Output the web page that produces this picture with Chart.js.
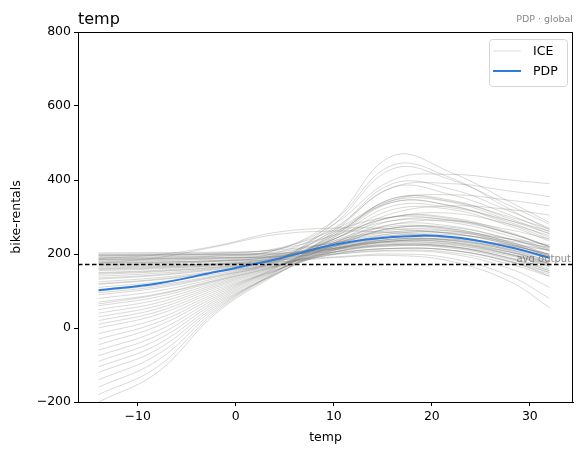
<!DOCTYPE html>
<html>
<head>
<meta charset="utf-8">
<script src="https://cdn.jsdelivr.net/npm/chart.js@4.4.1/dist/chart.umd.min.js"></script>
<style>
  html, body { margin: 0; padding: 0; background: #fff; }
  #wrap { width: 583px; height: 455px; }
</style>
</head>
<body>
<div id="wrap"><canvas id="myChart" width="583" height="455"></canvas></div>
<script>
const temps = [-14, -8, -2, 4, 10, 16, 22, 28, 32];

// partial dependence (average) curve
const pdp = [102, 120, 152, 185, 225, 246, 246, 218, 190];

// average model output (dashed line)
const avgOutput = 173;

// individual conditional expectation curves
const ice = [
  [200, 201, 203, 212, 250, 300, 310, 280, 250],
  [195, 196, 198, 205, 230, 260, 262, 240, 215],
  [190, 191, 194, 200, 222, 245, 244, 222, 200],
  [185, 186, 190, 198, 218, 238, 236, 212, 188],
  [180, 182, 186, 195, 215, 232, 228, 205, 180],
  [176, 178, 183, 193, 212, 228, 224, 198, 172],
  [170, 173, 180, 192, 215, 240, 238, 210, 182],
  [165, 168, 176, 190, 220, 255, 256, 225, 195],
  [160, 164, 173, 188, 225, 270, 272, 240, 210],
  [155, 160, 170, 187, 230, 290, 292, 255, 220],
  [150, 156, 168, 186, 240, 320, 320, 275, 235],
  [145, 152, 165, 185, 250, 350, 345, 295, 255],
  [140, 148, 162, 185, 265, 390, 375, 315, 270],
  [132, 142, 158, 183, 280, 430, 400, 330, 280],
  [125, 136, 154, 180, 290, 465, 420, 340, 285],
  [118, 130, 150, 178, 260, 300, 290, 255, 220],
  [110, 124, 146, 176, 235, 260, 255, 225, 195],
  [100, 116, 142, 174, 215, 235, 232, 205, 175],
  [90, 108, 138, 172, 205, 222, 218, 190, 160],
  [80, 100, 134, 170, 200, 215, 210, 180, 150],
  [70, 92, 130, 168, 198, 210, 204, 172, 140],
  [60, 84, 126, 167, 205, 225, 220, 188, 155],
  [50, 76, 122, 166, 212, 245, 242, 208, 175],
  [40, 68, 118, 165, 220, 270, 268, 232, 198],
  [30, 60, 114, 164, 230, 300, 298, 258, 220],
  [20, 52, 110, 163, 245, 340, 330, 285, 245],
  [10, 44, 105, 162, 260, 380, 360, 305, 260],
  [0, 36, 100, 160, 240, 290, 285, 248, 212],
  [-15, 25, 95, 158, 220, 250, 245, 212, 180],
  [-30, 15, 90, 156, 205, 225, 220, 188, 155],
  [-45, 5, 85, 155, 200, 215, 210, 178, 145],
  [-60, -8, 80, 154, 210, 235, 232, 200, 168],
  [-75, -20, 75, 153, 225, 265, 262, 228, 192],
  [-90, -32, 70, 152, 240, 300, 295, 255, 218],
  [-105, -45, 65, 150, 255, 340, 330, 280, 240],
  [-120, -58, 60, 148, 235, 275, 268, 232, 198],
  [-140, -72, 55, 146, 215, 240, 236, 205, 172],
  [-160, -88, 50, 145, 205, 222, 216, 185, 150],
  [-180, -105, 45, 144, 210, 235, 230, 198, 165],
  [-200, -120, 40, 142, 225, 270, 265, 228, 195],
  [198, 199, 200, 200, 205, 215, 210, 180, 140],
  [188, 189, 190, 192, 200, 208, 200, 160, 110],
  [178, 179, 181, 184, 192, 200, 188, 140, 80],
  [168, 170, 173, 178, 190, 196, 180, 125, 55],
  [192, 193, 196, 210, 280, 400, 415, 400, 390],
  [182, 184, 188, 202, 270, 380, 390, 370, 355],
  [172, 175, 180, 196, 255, 345, 360, 345, 330],
  [162, 166, 173, 190, 240, 310, 330, 320, 305],
  [203, 204, 205, 210, 230, 255, 258, 240, 225],
  [197, 198, 199, 202, 215, 235, 240, 225, 210],
  [186, 187, 189, 195, 220, 250, 252, 235, 218],
  [175, 177, 182, 192, 228, 280, 290, 265, 240],
  [158, 162, 170, 185, 215, 240, 238, 215, 192],
  [148, 154, 164, 182, 212, 232, 226, 200, 175],
  [135, 144, 160, 180, 210, 226, 220, 195, 168],
  [195, 197, 201, 214, 265, 345, 340, 290, 255],
  [185, 188, 194, 210, 290, 440, 405, 320, 265],
  [120, 132, 152, 180, 245, 330, 325, 290, 262],
  [95, 112, 140, 175, 250, 350, 342, 300, 268],
  [65, 90, 128, 168, 230, 280, 275, 240, 208],
  [188, 198, 222, 258, 270, 268, 255, 230, 210],
  [175, 190, 220, 252, 262, 258, 245, 222, 200]
];

const yTicks = [-200, 0, 200, 400, 600, 800];
const xTicks = [-10, 0, 10, 20, 30];

const FONT = "'DejaVu Sans', sans-serif";
const iceColor = "rgba(115,115,110,0.27)";
const pdpColor = "#2f7bd9";

function toPoints(vals) {
  return temps.map((t, i) => ({ x: t, y: vals[i] }));
}

let datasets = [];
ice.forEach((row, i) => {
  datasets.push({
    label: i == 0 ? "ICE" : "",
    data: toPoints(row),
    borderColor: iceColor,
    borderWidth: 1,
    pointRadius: 0,
    tension: 0.4,
    order: 2
  });
});
datasets.push({
  label: "PDP",
  data: toPoints(pdp),
  borderColor: pdpColor,
  borderWidth: 2,
  pointRadius: 0,
  tension: 0.4,
  order: 1
});

// frame, dashed avg line, titles and legend
const extras = {
  id: "extras",
  afterDatasetsDraw(chart) {
    const ctx = chart.ctx;
    const a = chart.chartArea;
    const y = Math.round(chart.scales.y.getPixelForValue(avgOutput)) + 0.5;
    ctx.save();
    ctx.strokeStyle = "#000";
    ctx.lineWidth = 1.3;
    ctx.setLineDash([4.5, 2.5]);
    ctx.beginPath();
    ctx.moveTo(a.left, y);
    ctx.lineTo(a.right, y);
    ctx.stroke();
    ctx.setLineDash([]);

    ctx.fillStyle = "rgba(110,110,110,0.8)";
    ctx.font = "10px " + FONT;
    ctx.textAlign = "right";
    ctx.textBaseline = "bottom";
    ctx.fillText("avg output", a.right - 2, y);

    ctx.strokeStyle = "#000";
    ctx.lineWidth = 1;
    ctx.strokeRect(a.left + 0.5, a.top + 0.5, a.right - a.left - 1, a.bottom - a.top);
    ctx.restore();
  },
  afterDraw(chart) {
    const ctx = chart.ctx;
    const a = chart.chartArea;
    ctx.save();
    ctx.fillStyle = "#000";
    ctx.font = "16px " + FONT;
    ctx.textAlign = "left";
    ctx.textBaseline = "alphabetic";
    ctx.fillText("temp", a.left, 24);
    ctx.fillStyle = "#888";
    ctx.font = "9.5px " + FONT;
    ctx.textAlign = "right";
    ctx.fillText("PDP · global", a.right, 22);

    // legend
    const bx = 489, by = 39, bw = 78, bh = 47;
    ctx.fillStyle = "rgba(255,255,255,0.8)";
    ctx.strokeStyle = "#d5d5d5";
    ctx.lineWidth = 1;
    ctx.beginPath();
    ctx.roundRect(bx + 0.5, by + 0.5, bw, bh, 3);
    ctx.fill();
    ctx.stroke();
    const items = [
      { label: datasets[0].label, color: "rgba(120,120,115,0.25)", w: 1 },
      { label: datasets[datasets.length - 1].label, color: pdpColor, w: 2 }
    ];
    ctx.font = "12.5px " + FONT;
    ctx.textAlign = "left";
    ctx.textBaseline = "middle";
    items.forEach((it, i) => {
      const yy = by + 12 + i * 20;
      ctx.strokeStyle = it.color;
      ctx.lineWidth = it.w;
      ctx.beginPath();
      ctx.moveTo(bx + 4, yy);
      ctx.lineTo(bx + 32, yy);
      ctx.stroke();
      ctx.fillStyle = "#000";
      ctx.fillText(it.label, bx + 44, yy + 1);
    });
    ctx.restore();
  }
};

const minus = v => String(v).replace("-", "\u2212");

new Chart(document.getElementById("myChart").getContext("2d"), {
  type: "line",
  data: { datasets: datasets },
  options: {
    responsive: false,
    animation: false,
    layout: { padding: { top: 32, right: 10, left: 0, bottom: 0 } },
    plugins: {
      legend: { display: false },
      tooltip: { enabled: false },
      title: { display: false }
    },
    scales: {
      x: {
        type: "linear",
        min: -16.1,
        max: 34.4,
        afterBuildTicks: s => { s.ticks = xTicks.map(v => ({ value: v })); },
        afterFit: s => { s.height = 53; },
        grid: { drawOnChartArea: false, drawTicks: true, tickLength: 4, color: "#000" },
        border: { display: true, color: "#000" },
        ticks: { color: "#000", font: { family: FONT, size: 12.5 }, padding: 3, callback: v => minus(v) },
        title: { display: true, text: "temp", color: "#000", font: { family: FONT, size: 12.5 }, padding: { top: 0, bottom: 10 } }
      },
      y: {
        type: "linear",
        min: -200,
        max: 800,
        afterBuildTicks: s => { s.ticks = yTicks.map(v => ({ value: v })); },
        afterFit: s => { s.width = 78; },
        grid: { drawOnChartArea: false, drawTicks: true, tickLength: 4, color: "#000" },
        border: { display: true, color: "#000" },
        ticks: { color: "#000", font: { family: FONT, size: 12.5 }, padding: 3, callback: v => minus(v) },
        title: { display: true, text: "bike-rentals", color: "#000", font: { family: FONT, size: 12.5 }, padding: { top: 9, bottom: 0 } }
      }
    }
  },
  plugins: [extras]
});
</script>
</body>
</html>
